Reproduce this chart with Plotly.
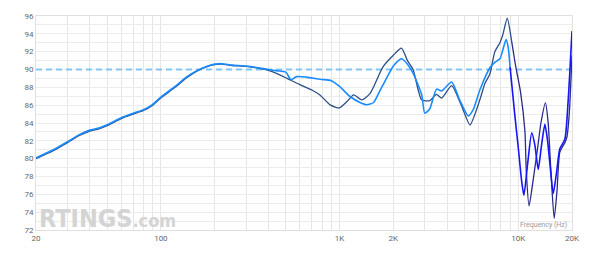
import plotly.graph_objects as go

# ---- data ----
left_freq = [20, 25, 30, 35, 40, 45, 50, 60, 70, 80, 90, 100, 120, 140, 160, 180, 200, 220, 250, 300, 350, 400,
             450, 500, 535, 575, 650, 780, 900, 1000, 1140, 1300, 1420, 1550, 1700, 1830, 2000, 2220, 2400, 2580,
             2880, 3000, 3200, 3490, 3730, 4240, 4700, 5250, 5600, 6100, 6940, 7400, 7900, 8200, 8550, 8800, 9000]
left_db = [80.1, 81.0, 81.9, 82.7, 83.2, 83.45, 83.8, 84.6, 85.1, 85.5, 86.1, 86.9, 88.1, 89.2, 89.9, 90.35, 90.6, 90.65,
           90.5, 90.4, 90.2, 90.0,
           89.85, 89.7, 88.85, 89.2, 89.15, 88.9, 88.75, 88.1, 87.0, 86.3, 86.05, 86.3, 87.8, 89.0, 90.4, 91.2, 90.6,
           89.6, 87.2, 85.1, 85.6, 87.8, 87.6, 88.6, 86.6, 84.8, 85.5, 87.7, 90.2, 90.8, 91.2, 92.2, 93.35, 92.4, 90.3]

left_hi_freq = [9000, 9580, 10000, 10450, 10760, 11300, 11900, 12400, 12940, 13500, 14100, 14600, 15200, 15700,
                16400, 17100, 18250, 19050, 20000]
left_hi_db = [90.3, 84.8, 81.3, 77.5, 75.9, 79.5, 82.9, 81.5, 78.8, 81.5, 83.85, 82.0, 78.5, 76.1,
              78.5, 81.1, 82.2, 86.6, 94.3]

right_freq = [20, 25, 30, 35, 40, 45, 50, 60, 70, 80, 90, 100, 120, 140, 160, 180, 200, 220, 250, 300, 350, 400,
              450, 508, 600, 700, 776, 890, 1000, 1100, 1200, 1330, 1480, 1750, 2000, 2220, 2400, 2580, 2880, 3200,
              3490, 3730, 4240, 4800, 5370, 6100, 6500, 6940, 7400, 7900, 8200, 8680, 9180]
right_db = [80.0, 80.9, 81.8, 82.6, 83.1, 83.35, 83.7, 84.5, 85.0, 85.4, 86.0, 86.8, 88.0, 89.1, 89.85, 90.3, 90.55, 90.6,
            90.45, 90.35, 90.15, 89.9,
            89.5, 89.0, 88.3, 87.7, 87.15, 86.0, 85.7, 86.4, 87.15, 86.6, 87.3, 90.3, 91.6, 92.4, 91.0, 90.0, 86.6, 86.5,
            87.2, 86.8, 88.2, 86.0, 83.8, 86.6, 88.4, 89.5, 92.0, 93.0, 93.9, 95.75, 93.2]

right_hi_freq = [9180, 9580, 9800, 10300, 10900, 11100, 11500, 12200, 12900, 13400, 14200, 14700, 15200, 15900,
                 16500, 17100, 18250, 18700, 19300, 20000]
right_hi_db = [93.2, 90.9, 89.8, 87.5, 83.1, 78.5, 74.7, 78.0, 81.5, 84.0, 86.25, 84.1, 79.0, 73.3,
               76.5, 80.75, 81.8, 82.35, 85.0, 91.6]

target_db = 90
x_tick_vals = [20, 30, 40, 50, 60, 70, 80, 90, 100, 200, 300, 400, 500, 600, 700, 800, 900,
               1000, 2000, 3000, 4000, 5000, 6000, 7000, 8000, 9000, 10000, 20000]
x_tick_text = ["20", "", "", "", "", "", "", "", "100", "", "", "", "", "", "", "", "",
               "1K", "2K", "", "", "", "", "", "", "", "10K", "20K"]
y_tick_vals = list(range(72, 97))
y_tick_text = [str(v) if v % 2 == 0 else "" for v in y_tick_vals]

LIGHT = "#1a8cff"
LIGHT_HI = "#1515f5"
DARK = "#2b4f86"
DARK_HI = "#2a2a8a"

fig = go.Figure()
fig.add_trace(go.Scatter(x=[20, 20000], y=[target_db, target_db], mode="lines",
                         line=dict(color="#80c6f8", width=2, dash="6px,4px"), hoverinfo="skip"))
fig.add_trace(go.Scatter(x=right_freq, y=right_db, mode="lines",
                         line=dict(color=DARK, width=1.3, shape="spline", smoothing=0.6)))
fig.add_trace(go.Scatter(x=left_freq, y=left_db, mode="lines",
                         line=dict(color=LIGHT, width=1.6, shape="spline", smoothing=0.6)))
fig.add_trace(go.Scatter(x=right_hi_freq, y=right_hi_db, mode="lines",
                         line=dict(color=DARK_HI, width=1.3, shape="spline", smoothing=0.6)))
fig.add_trace(go.Scatter(x=left_hi_freq, y=left_hi_db, mode="lines",
                         line=dict(color=LIGHT_HI, width=1.6, shape="spline", smoothing=0.6)))

fig.update_layout(
    width=600, height=255,
    margin=dict(l=36, r=28, t=12, b=18),
    paper_bgcolor="white", plot_bgcolor="white",
    showlegend=False,
    font=dict(family="Roboto, Arial, sans-serif", size=8, color="#666666"),
    xaxis=dict(type="log", range=[1.30103, 4.30103], tickvals=x_tick_vals, ticktext=x_tick_text,
               showgrid=True, gridcolor="#e6e6e6", gridwidth=1, zeroline=False,
               showline=True, linecolor="#e0e0e0", mirror=True, ticks="", tickfont=dict(size=8, color="#666")),
    yaxis=dict(range=[72, 96], tickvals=y_tick_vals, ticktext=y_tick_text,
               showgrid=True, gridcolor="#ececec", gridwidth=1, zeroline=False,
               showline=True, linecolor="#e0e0e0", mirror=True, ticks="", tickfont=dict(size=8, color="#666")),
    annotations=[
        dict(xref="paper", yref="paper", x=0.002, y=0.0, xanchor="left", yanchor="bottom",
             text="<b>RTINGS</b><b style='font-size:18px'>.com</b>", showarrow=False,
             font=dict(family="Liberation Sans Narrow, DejaVu Sans Condensed, Roboto Condensed, Arial Narrow, sans-serif",
                       size=25, color="#d4d4d4"), yshift=-5),
        dict(xref="paper", yref="paper", x=0.995, y=0.0, xanchor="right", yanchor="bottom",
             text="Frequency (Hz)", showarrow=False, font=dict(size=7, color="#999999"), yshift=-1),
    ],
)

fig.write_html("out.html")
